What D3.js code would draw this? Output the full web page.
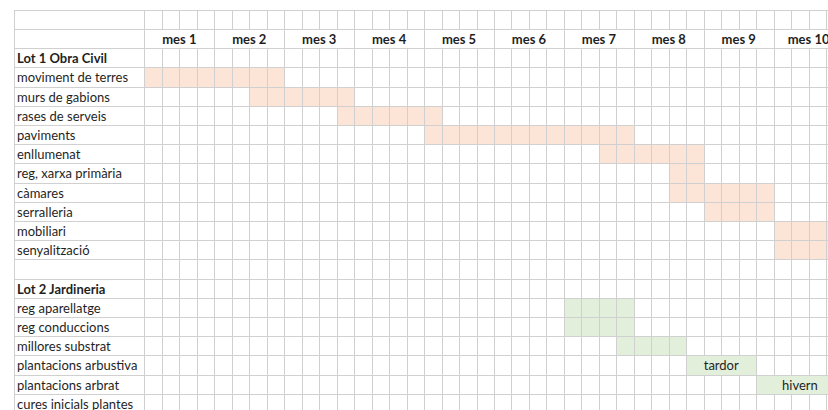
<!DOCTYPE html>
<html>
<head>
<meta charset="utf-8">
<script src="https://cdn.jsdelivr.net/npm/d3@7"></script>
<style>
  html, body { margin: 0; padding: 0; background: #ffffff; }
  svg { display: block; }
  text { font-family: Lato, "Noto Sans", sans-serif; fill: #1f1f1f; }
</style>
</head>
<body>
<div id="chart"></div>
<script>
// ---- data ----
const months = ["mes 1", "mes 2", "mes 3", "mes 4", "mes 5", "mes 6", "mes 7", "mes 8", "mes 9", "mes 10"];
const weeksPerMonth = 4;

const lot1Title = "Lot 1 Obra Civil";
const lot1Tasks = ["moviment de terres", "murs de gabions", "rases de serveis", "paviments", "enllumenat",
                   "reg, xarxa primària", "càmares", "serralleria", "mobiliari", "senyalització"];
const lot1Start = [0, 6, 11, 16, 26, 30, 30, 32, 36, 36];   // week index
const lot1Weeks = [8, 6, 6, 12, 6, 2, 6, 4, 4, 4];

const lot2Title = "Lot 2 Jardineria";
const lot2Tasks = ["reg aparellatge", "reg conduccions", "millores substrat", "plantacions arbustiva",
                   "plantacions arbrat", "cures inicials plantes"];
const lot2Start = [24, 24, 27, 31, 35, 0];
const lot2Weeks = [4, 4, 4, 4, 5, 0];
const lot2Notes = ["", "", "", "tardor", "hivern", ""];   // merged-cell notes

// ---- rows ----
const rows = [];
rows.push({ type: "blank" });
rows.push({ type: "months" });
rows.push({ type: "title", label: lot1Title });
lot1Tasks.forEach((t, i) => rows.push({ type: "task", label: t, start: lot1Start[i], weeks: lot1Weeks[i], lot: 1, note: "" }));
rows.push({ type: "blank" });
rows.push({ type: "title", label: lot2Title });
lot2Tasks.forEach((t, i) => rows.push({ type: "task", label: t, start: lot2Start[i], weeks: lot2Weeks[i], lot: 2, note: lot2Notes[i] }));

const W = 828, H = 410;
const totalWeeks = months.length * weeksPerMonth;
const labelLeft = 14;
const x = d3.scaleLinear().domain([0, totalWeeks]).range([144.4, 144.4 + 17.48 * totalWeeks]);
const y = d3.scaleLinear().domain([0, rows.length]).range([9.8, 9.8 + 19.2 * rows.length]);
const px = v => Math.round(v) + 0.5;

const colors = { 1: "#fce4d6", 2: "#e2efda" };
const gridColor = "#d0d0d0";

const svg = d3.select("#chart").append("svg").attr("width", W).attr("height", H);

// fills
const g = svg.append("g");
rows.forEach((r, i) => {
  if (r.type !== "task" || !r.weeks) return;
  const x0 = px(x(r.start)), x1 = px(x(r.start + r.weeks));
  const y0 = px(y(i)), y1 = px(y(i + 1));
  g.append("rect")
    .attr("x", x0).attr("y", y0)
    .attr("width", x1 - x0).attr("height", y1 - y0)
    .attr("fill", colors[r.lot]);
});

// grid lines
const lines = svg.append("g").attr("stroke", gridColor).attr("stroke-width", 1);
// horizontal
for (let i = 0; i <= rows.length; i++) {
  lines.append("line").attr("x1", labelLeft).attr("x2", W).attr("y1", px(y(i))).attr("y2", px(y(i)));
}
// left border
lines.append("line").attr("x1", px(labelLeft)).attr("x2", px(labelLeft)).attr("y1", px(y(0))).attr("y2", H);
// vertical per row
rows.forEach((r, i) => {
  for (let c = 0; c <= totalWeeks; c++) {
    if (r.type === "months" && c % weeksPerMonth !== 0) continue;
    if (r.note && c > r.start && c < r.start + r.weeks) continue;
    lines.append("line").attr("x1", px(x(c))).attr("x2", px(x(c)))
      .attr("y1", px(y(i))).attr("y2", px(y(i + 1)));
  }
});

// labels
const fs = 13;
rows.forEach((r, i) => {
  const base = y(i + 1) - 4.3;
  if (r.type === "title" || r.type === "task") {
    svg.append("text").attr("x", 17).attr("y", base)
      .attr("font-size", fs).attr("font-weight", r.type === "title" ? 700 : 400)
      .text(r.label);
  }
  if (r.type === "months") {
    months.forEach((m, k) => {
      svg.append("text")
        .attr("x", (x(k * weeksPerMonth) + x((k + 1) * weeksPerMonth)) / 2)
        .attr("y", base).attr("text-anchor", "middle")
        .attr("font-size", fs).attr("font-weight", 700).text(m);
    });
  }
  if (r.note) {
    svg.append("text")
      .attr("x", (x(r.start) + x(r.start + r.weeks)) / 2)
      .attr("y", base).attr("text-anchor", "middle")
      .attr("font-size", fs).text(r.note);
  }
});
</script>
</body>
</html>
